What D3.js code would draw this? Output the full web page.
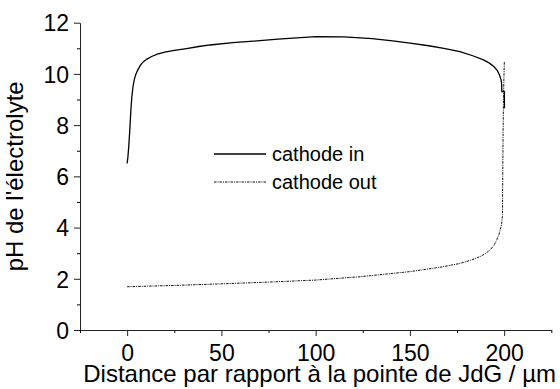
<!DOCTYPE html>
<html>
<head>
<meta charset="utf-8">
<script src="https://cdn.jsdelivr.net/npm/d3@7"></script>
<style>
  body { margin: 0; background: #fff; }
  svg { font-family: Arial, 'Liberation Sans', sans-serif; }
</style>
</head>
<body>
<svg width="560" height="389"></svg>
<script>
// cathode in (solid)
const inX = [0, 0.4, 0.8, 1.2, 1.6, 2.0, 2.5, 3.1, 3.8, 4.6, 5.6, 7, 8.5, 10.5, 13, 16, 20, 25, 31.5, 38, 44, 56, 67, 80, 100, 115, 130, 142, 150, 160, 168, 176.6, 183.7, 189, 192, 194.5, 196.3, 197.6, 198.4, 198.7, 198.75, 200.1, 200.15];
const inY = [6.5, 6.75, 7.1, 7.55, 8.05, 8.6, 9.1, 9.5, 9.78, 9.98, 10.15, 10.33, 10.47, 10.58, 10.68, 10.77, 10.85, 10.92, 10.99, 11.07, 11.13, 11.22, 11.28, 11.36, 11.46, 11.45, 11.38, 11.28, 11.2, 11.1, 11.0, 10.87, 10.7, 10.55, 10.43, 10.29, 10.14, 9.95, 9.75, 9.57, 9.31, 9.31, 8.66];
// cathode out (dashed)
const outX = [0, 25, 49, 75, 100, 123.6, 150, 166, 176.6, 182, 187, 190, 192.5, 194.5, 196, 197.2, 197.8, 198.4, 198.7, 199.1, 199.25, 199.4, 199.6, 199.85, 200.1];
const outY = [1.69, 1.74, 1.8, 1.87, 1.95, 2.08, 2.28, 2.45, 2.6, 2.72, 2.86, 2.98, 3.125, 3.3, 3.5, 3.72, 3.9, 4.05, 4.17, 4.5, 6, 7.5, 8.8, 9.8, 10.5];

const seriesNames = ['cathode in', 'cathode out'];
const xMajor = [0, 50, 100, 150, 200];
const xMinor = [-25, 25, 75, 125, 175, 225];
const yMajor = [0, 2, 4, 6, 8, 10, 12];
const yMinor = [1, 3, 5, 7, 9, 11];

const svg = d3.select('svg');
const margin = { top: 22.7, right: 8.7, bottom: 59, left: 80 };
const innerWidth = 560 - margin.left - margin.right;
const innerHeight = 389 - margin.top - margin.bottom;

const xScale = d3.scaleLinear().domain([-25, 225]).range([0, innerWidth]);
const yScale = d3.scaleLinear().domain([0, 12]).range([innerHeight, 0]);

const g = svg.append('g')
    .attr('transform', `translate(${margin.left}, ${margin.top})`);

// minor ticks
g.append('g')
    .attr('transform', `translate(0, ${innerHeight})`)
    .call(d3.axisBottom(xScale).tickValues(xMinor).tickSize(3).tickFormat(''))
    .call(a => a.select('.domain').remove());
g.append('g')
    .call(d3.axisLeft(yScale).tickValues(yMinor).tickSize(3).tickFormat(''))
    .call(a => a.select('.domain').remove());

// major axes
const xAxis = g.append('g')
    .attr('transform', `translate(0, ${innerHeight})`)
    .call(d3.axisBottom(xScale).tickValues(xMajor).tickSize(6).tickSizeOuter(0).tickPadding(4));
const yAxis = g.append('g')
    .call(d3.axisLeft(yScale).tickValues(yMajor).tickSize(6).tickSizeOuter(0).tickPadding(5));

[xAxis, yAxis].forEach(a => {
    a.selectAll('text').attr('font-size', 23).attr('fill', '#000').attr('font-family', 'Arial, Liberation Sans, sans-serif');
    a.selectAll('line, path').attr('stroke', '#222');
});
xAxis.selectAll('text').attr('dy', '0.92em');
yAxis.selectAll('text').attr('dy', '0.36em');

g.append('text')
    .attr('x', innerWidth / 2 + 4)
    .attr('y', innerHeight + 52)
    .attr('text-anchor', 'middle')
    .attr('font-size', 24)
    .text('Distance par rapport à la pointe de JdG / µm');

g.append('text')
    .attr('transform', `translate(${-57}, ${innerHeight / 2}) rotate(-90)`)
    .attr('text-anchor', 'middle')
    .attr('font-size', 24)
    .text("pH de l'électrolyte");

const line = d3.line()
    .x(d => xScale(d[0]))
    .y(d => yScale(d[1]));

const inData = inX.map((x, i) => [x, inY[i]]);
const outData = outX.map((x, i) => [x, outY[i]]);

const styles = [
    { stroke: '#000', width: 1.3, dash: null },
    { stroke: '#111', width: 1, dash: '2.5,1,1,1' }
];

g.append('path').datum(inData)
    .attr('fill', 'none')
    .attr('stroke', styles[0].stroke)
    .attr('stroke-width', styles[0].width)
    .attr('d', line);
g.append('path').datum(outData)
    .attr('fill', 'none')
    .attr('stroke', styles[1].stroke)
    .attr('stroke-width', styles[1].width)
    .attr('stroke-dasharray', styles[1].dash)
    .attr('d', line);

// legend
const legend = svg.append('g').attr('transform', 'translate(214, 154)');
seriesNames.forEach((name, i) => {
    const row = legend.append('g').attr('transform', `translate(0, ${i * 28})`);
    row.append('line')
        .attr('x1', 0).attr('x2', 52).attr('y1', 0).attr('y2', 0)
        .attr('stroke', styles[i].stroke)
        .attr('stroke-width', styles[i].width)
        .attr('stroke-dasharray', styles[i].dash);
    row.append('text')
        .attr('x', 58).attr('y', 0).attr('dy', '0.35em')
        .attr('font-size', 20)
        .text(name);
});
</script>
</body>
</html>
